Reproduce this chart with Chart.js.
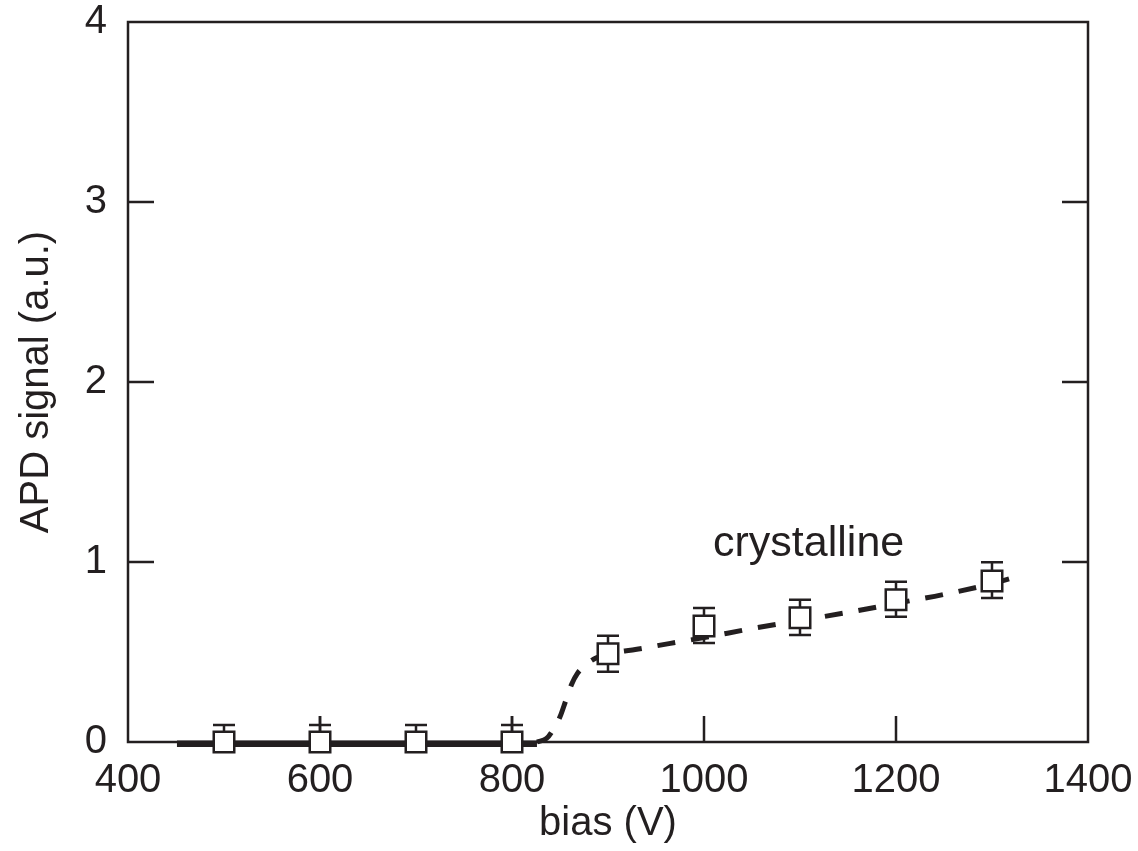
<!DOCTYPE html>
<html>
<head>
<meta charset="utf-8">
<script src="https://cdn.jsdelivr.net/npm/chart.js@4/dist/chart.umd.min.js"></script>
<style>
  html, body { margin: 0; padding: 0; background: #ffffff; }
  #c { display: block; }
</style>
</head>
<body>
<canvas id="c" width="1138" height="851"></canvas>
<script>
// ---- data ----
const xTickValues = [400, 600, 800, 1000, 1200, 1400];
const yTickValues = [0, 1, 2, 3, 4];

const pointX = [500, 600, 700, 800, 900, 1000, 1100, 1200, 1300];
const pointY = [0, 0, 0, 0, 0.49, 0.645, 0.69, 0.79, 0.895];
const errTop = [0.094, 0.145, 0.094, 0.145, 0.59, 0.745, 0.79, 0.89, 0.998];
const capTop = [0.094, 0.094, 0.094, 0.094, 0.59, 0.745, 0.79, 0.89, 0.998];
const errBottom = [0, 0, 0, 0, 0.39, 0.55, 0.594, 0.696, 0.80];

const solidX = [451, 826];
const solidY = [-0.01, -0.01];

const dashX = [826, 836, 843, 850, 856, 862, 868, 875, 885, 900, 930, 965, 1000, 1050, 1100, 1150, 1200, 1250, 1300, 1330];
const dashY = [0, 0.02, 0.07, 0.14, 0.23, 0.32, 0.38, 0.42, 0.46, 0.49, 0.515, 0.548, 0.58, 0.63, 0.675, 0.72, 0.77, 0.82, 0.88, 0.925];

const annotationText = 'crystalline';
const annotationAt = { x: 1109, y: 1.035 };

// ---- styling ----
const INK = '#231f20';
const FONT = 'Liberation Sans, Arial, Helvetica, sans-serif';

const toXY = (xs, ys) => xs.map((x, i) => ({ x: x, y: ys[i] }));

const framePlugin = {
  id: 'frame',
  beforeDatasetsDraw(chart) {
    const { ctx, chartArea: a, scales } = chart;
    const x = scales.x, y = scales.y;
    ctx.save();
    ctx.strokeStyle = INK;
    ctx.lineWidth = 2.5;
    ctx.strokeRect(a.left, a.top, a.right - a.left, a.bottom - a.top);
    const tl = 26;
    ctx.beginPath();
    xTickValues.forEach(v => {
      const px = x.getPixelForValue(v);
      if (px > a.left + 1 && px < a.right - 1) {
        ctx.moveTo(px, a.bottom);
        ctx.lineTo(px, a.bottom - tl);
      }
    });
    yTickValues.forEach(v => {
      const py = y.getPixelForValue(v);
      if (py > a.top + 1 && py < a.bottom - 1) {
        ctx.moveTo(a.left, py);
        ctx.lineTo(a.left + tl, py);
        ctx.moveTo(a.right, py);
        ctx.lineTo(a.right - tl, py);
      }
    });
    ctx.stroke();
    ctx.restore();
  },
  beforeDatasetDraw(chart, args) {
    if (args.index !== 0) return;
    const { ctx, scales } = chart;
    const x = scales.x, y = scales.y;
    const half = 11;
    ctx.save();
    ctx.strokeStyle = INK;
    ctx.lineWidth = 2.5;
    ctx.beginPath();
    pointX.forEach((v, i) => {
      const px = x.getPixelForValue(v);
      const py = y.getPixelForValue(pointY[i]);
      const pt = y.getPixelForValue(errTop[i]);
      const pc = y.getPixelForValue(capTop[i]);
      ctx.moveTo(px, py);
      ctx.lineTo(px, pt);
      ctx.moveTo(px - half, pc);
      ctx.lineTo(px + half, pc);
      if (errBottom[i] < pointY[i]) {
        const pb = y.getPixelForValue(errBottom[i]);
        ctx.moveTo(px, py);
        ctx.lineTo(px, pb);
        ctx.moveTo(px - half, pb);
        ctx.lineTo(px + half, pb);
      }
    });
    ctx.stroke();
    ctx.restore();
  },
  afterDatasetsDraw(chart) {
    const { ctx, scales } = chart;
    ctx.save();
    ctx.fillStyle = INK;
    ctx.font = '43px ' + FONT;
    ctx.textAlign = 'center';
    ctx.textBaseline = 'alphabetic';
    ctx.fillText(annotationText, scales.x.getPixelForValue(annotationAt.x), scales.y.getPixelForValue(annotationAt.y));
    ctx.restore();
  }
};

new Chart(document.getElementById('c'), {
  type: 'scatter',
  data: {
    datasets: [
      {
        label: 'data',
        data: toXY(pointX, pointY),
        showLine: false,
        pointStyle: 'rect',
        pointRadius: 14.5,
        pointBorderWidth: 2.5,
        pointBorderColor: INK,
        pointBackgroundColor: '#ffffff',
        clip: false
      },
      {
        label: 'amorphous fit',
        data: toXY(solidX, solidY),
        showLine: true,
        borderColor: INK,
        borderWidth: 6.5,
        pointRadius: 0,
        clip: false
      },
      {
        label: 'crystalline fit',
        data: toXY(dashX, dashY),
        showLine: true,
        borderColor: INK,
        borderWidth: 5,
        borderDash: [18, 16],
        borderCapStyle: 'butt',
        cubicInterpolationMode: 'monotone',
        pointRadius: 0,
        clip: false
      }
    ]
  },
  options: {
    responsive: false,
    animation: false,
    events: [],
    layout: { padding: { top: 22, right: 50, left: 0, bottom: 0 } },
    plugins: { legend: { display: false }, tooltip: { enabled: false } },
    scales: {
      x: {
        type: 'linear',
        min: 400,
        max: 1400,
        afterBuildTicks: s => { s.ticks = xTickValues.map(v => ({ value: v })); },
        grid: { display: false },
        border: { display: false },
        ticks: {
          color: INK,
          font: { family: FONT, size: 40, lineHeight: 1 },
          padding: 11,
          maxRotation: 0,
          autoSkip: false,
          callback: v => String(v)
        },
        title: {
          display: true,
          text: 'bias (V)',
          color: INK,
          font: { family: FONT, size: 40, lineHeight: 1.2 },
          padding: { top: 0, bottom: 3 }
        },
        afterFit: s => { s.height = 109; s.paddingLeft = 0; s.paddingRight = 0; }
      },
      y: {
        type: 'linear',
        min: 0,
        max: 4,
        afterBuildTicks: s => { s.ticks = yTickValues.map(v => ({ value: v })); },
        grid: { display: false },
        border: { display: false },
        ticks: {
          color: INK,
          font: { family: FONT, size: 40, lineHeight: 0.2 },
          padding: 13,
          callback: v => String(v)
        },
        title: {
          display: true,
          text: 'APD signal (a.u.)',
          color: INK,
          font: { family: FONT, size: 40, lineHeight: 1.2 },
          padding: { top: 13, bottom: 0 }
        },
        afterFit: s => { s.width = 128; }
      }
    }
  },
  plugins: [framePlugin]
});
</script>
</body>
</html>
